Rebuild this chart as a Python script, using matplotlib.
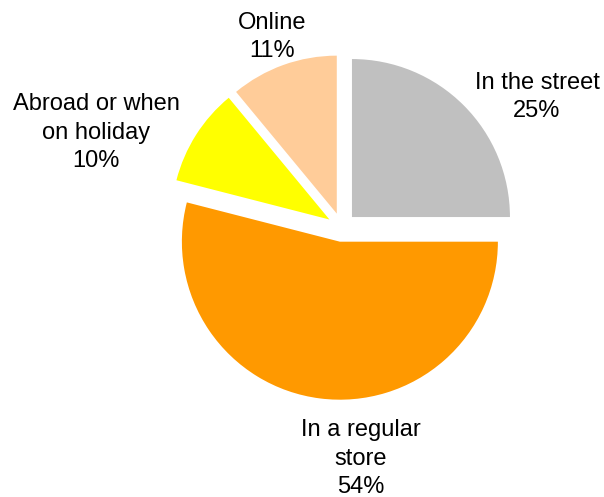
import matplotlib
matplotlib.use("Agg")
import matplotlib.pyplot as plt

categories = ["In the street", "In a regular\nstore", "Abroad or when\non holiday", "Online"]
shares = [25, 54, 10, 11]
colors = ["#C0C0C0", "#FF9900", "#FFFF00", "#FFCC99"]

# label anchors in figure pixels: x centre, last-line baseline (from top)
label_pos = [(537, 117), (361, 493), (96, 167), (272, 57)]

W, H = 604, 497
fig = plt.figure(figsize=(W / 100, H / 100), dpi=100)
ax = fig.add_axes([0, 0, 1, 1])

# explode is in data units here (pixels), every slice pulled out equally
ax.pie(shares, colors=colors, startangle=90, counterclock=False,
       explode=[14.5] * len(shares), radius=158, center=(341.7, H - 227.3),
       wedgeprops=dict(linewidth=0))

ax.set_xlim(0, W)
ax.set_ylim(0, H)
ax.set_aspect("equal")
ax.axis("off")

for name, val, (x, y) in zip(categories, shares, label_pos):
    ax.text(x, H - y, f"{name}\n{val}%", ha="center", va="baseline",
            fontsize=17, family="Liberation Sans", linespacing=1.38,
            color="black")

fig.savefig("out.png", dpi=100)
